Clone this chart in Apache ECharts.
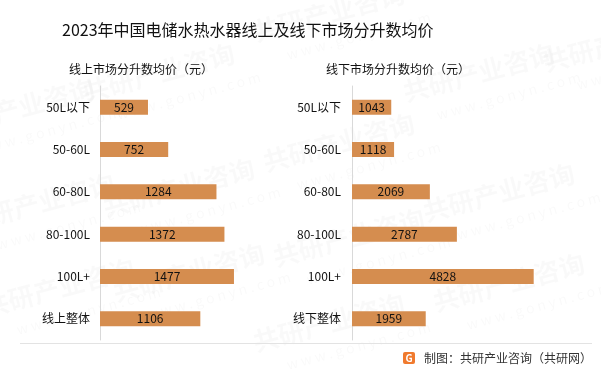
<!DOCTYPE html>
<html>
<head>
<meta charset="utf-8">
<script src="https://cdn.jsdelivr.net/npm/echarts@6/dist/echarts.min.js"></script>
<style>
  html, body { margin: 0; padding: 0; background: #fff; }
  #chart { width: 601px; height: 373px; }
</style>
</head>
<body>
<div id="chart"></div>
<script>
const onlineCategories = ["50L以下", "50-60L", "60-80L", "80-100L", "100L+", "线上整体"];
const offlineCategories = ["50L以下", "50-60L", "60-80L", "80-100L", "100L+", "线下整体"];
const onlineValues = [529, 752, 1284, 1372, 1477, 1106];
const offlineValues = [1043, 1118, 2069, 2787, 4828, 1959];

const barColor = "#D58D4F";
const fontFamily = "'Noto Sans CJK SC', 'Noto Sans', sans-serif";

// faint watermark, sparse
const marks = [];
[[-60, 115], [80, 80], [250, 20], [400, 80], [540, 50],
 [-40, 210], [100, 195], [260, 150], [420, 200],
 [-20, 295], [110, 280], [270, 245], [430, 290], [250, 330]].forEach(function (p) {
  marks.push({
    type: "text", x: p[0], y: p[1], rotation: 0.26, silent: true, z: -10,
    style: { text: "共研产业咨询", fontSize: 26, fontWeight: "bold", fill: "rgba(0,0,0,0.022)", fontFamily: fontFamily }
  });
  marks.push({
    type: "text", x: p[0] + 35, y: p[1] + 28, rotation: 0.26, silent: true, z: -10,
    style: { text: "w w w . g o n y n . c o m", fontSize: 14, fill: "rgba(0,0,0,0.022)", fontFamily: fontFamily }
  });
});

const myChart = echarts.init(document.getElementById("chart"));
myChart.setOption({
  backgroundColor: "#fff",
  textStyle: { fontFamily: fontFamily },
  title: [
    {
      text: "2023年中国电储水热水器线上及线下市场分升数均价",
      left: 62, top: 22, padding: 0,
      textStyle: { fontSize: 16, fontWeight: "normal", color: "#111" }
    },
    {
      text: "线上市场分升数均价（元）",
      left: 69, top: 63, padding: 0,
      textStyle: { fontSize: 12, fontWeight: "normal", color: "#111" }
    },
    {
      text: "线下市场分升数均价（元）",
      left: 326, top: 63, padding: 0,
      textStyle: { fontSize: 12, fontWeight: "normal", color: "#111" }
    }
  ],
  grid: [
    { left: 100, top: 86, height: 254, width: 181.4 },
    { left: 352, top: 86, height: 254, width: 225.8 }
  ],
  xAxis: [
    { gridIndex: 0, type: "value", min: 0, max: 2000, show: false },
    { gridIndex: 1, type: "value", min: 0, max: 6000, show: false }
  ],
  yAxis: [
    {
      gridIndex: 0, type: "category", inverse: true, data: onlineCategories,
      axisLine: { lineStyle: { color: "#d9d9d9", width: 1 } },
      axisTick: { show: false },
      axisLabel: { fontSize: 12, color: "#111", margin: 10 }
    },
    {
      gridIndex: 1, type: "category", inverse: true, data: offlineCategories,
      axisLine: { lineStyle: { color: "#d9d9d9", width: 1 } },
      axisTick: { show: false },
      axisLabel: { fontSize: 12, color: "#111", margin: 11 }
    }
  ],
  series: [
    {
      name: "线上", type: "bar", xAxisIndex: 0, yAxisIndex: 0,
      data: onlineValues, barWidth: 15,
      itemStyle: { color: barColor },
      label: { show: true, position: "inside", fontSize: 12, color: "#111" }
    },
    {
      name: "线下", type: "bar", xAxisIndex: 1, yAxisIndex: 1,
      data: offlineValues, barWidth: 15,
      itemStyle: { color: barColor },
      label: { show: true, position: "inside", fontSize: 12, color: "#111" }
    }
  ],
  graphic: marks.concat([
    {
      type: "line", shape: { x1: 20, y1: 343.5, x2: 592, y2: 343.5 },
      style: { stroke: "#e3e3e3", lineWidth: 1 }, silent: true
    },
    {
      type: "rect", shape: { x: 403, y: 352, width: 12, height: 12, r: 2 },
      style: { fill: "#F07A2E" }, silent: true
    },
    {
      type: "text", x: 409, y: 358,
      style: { text: "G", fontSize: 10, fontWeight: "bold", fill: "#fff", align: "center", verticalAlign: "middle", fontFamily: fontFamily },
      silent: true
    },
    {
      type: "text", x: 424, y: 358,
      style: { text: "制图：共研产业咨询（共研网）", fontSize: 12, fill: "#333", verticalAlign: "middle", fontFamily: fontFamily },
      silent: true
    }
  ])
});
</script>
</body>
</html>
